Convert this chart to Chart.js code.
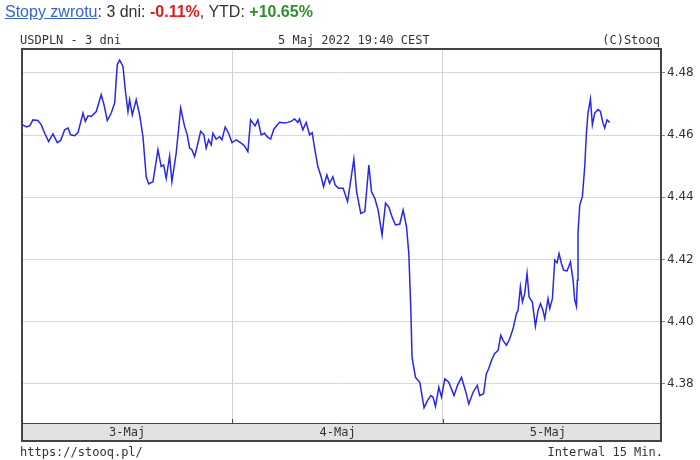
<!DOCTYPE html>
<html>
<head>
<meta charset="utf-8">
<script src="https://cdn.jsdelivr.net/npm/chart.js@4/dist/chart.umd.min.js"></script>
<style>
  body { margin: 0; background: #fff; }
  #wrap { position: relative; width: 700px; height: 460px; }
  canvas { position: absolute; left: 0; top: 0; }
  .txt { position: absolute; white-space: pre; color: #333; }
  .mono { font-family: "DejaVu Sans Mono", monospace; font-size: 12px; }
  #title { left: 5px; top: 3px; font-family: "Liberation Sans", Arial, sans-serif; font-size: 16px; }
  #title a { color: #3366cc; text-decoration: underline; }
  .red { color: #e01b1b; font-weight: bold; }
  .green { color: #2e8f2e; font-weight: bold; }
</style>
</head>
<body>
<div id="wrap">
  <canvas id="myChart" width="700" height="460"></canvas>
  <div class="txt" id="title"><a>Stopy zwrotu</a>: 3 dni: <span class="red">-0.11%</span>, YTD: <span class="green">+10.65%</span></div>
  <div class="txt mono" style="left:20px; top:33px;">USDPLN - 3 dni</div>
  <div class="txt mono" style="left:278px; top:33px;">5 Maj 2022 19:40 CEST</div>
  <div class="txt mono" style="right:40px; top:33px;">(C)Stooq</div>
  <div class="txt mono" style="left:20px; top:445px;">https://stooq.pl/</div>
  <div class="txt mono" style="right:37px; top:445px;">Interwal 15 Min.</div>
</div>
<script>
// godziny od poczatku 3 maja, kurs USDPLN
var day1Hours = [0.11,0.49,0.88,1.25,1.82,2.20,2.59,3.04,3.53,4.03,4.41,4.87,5.25,5.55,6.01,6.39,6.96,7.22,7.53,7.90,8.47,9.04,9.35,9.73,10.18,10.57,10.87,11.14,11.52,11.78,12.09,12.28,12.58,13.03,13.42,13.80,14.17,14.45,14.94,15.51,15.88,16.16,16.45,16.84,17.10,17.59,18.10,18.55,18.85,19.12,19.38,19.69,20.07,20.38,20.75,21.01,21.29,21.59,21.78,22.15,22.54,22.81,23.18,23.57,23.95];
var day1Values = [4.4633,4.4626,4.4630,4.4649,4.4647,4.4633,4.4606,4.4579,4.4604,4.4576,4.4583,4.4617,4.4623,4.4601,4.4598,4.4608,4.4671,4.4644,4.4662,4.4660,4.4676,4.4730,4.4698,4.4647,4.4671,4.4703,4.4827,4.4841,4.4821,4.4746,4.4676,4.4714,4.4665,4.4714,4.4665,4.4595,4.4466,4.4443,4.4450,4.4553,4.4499,4.4504,4.4461,4.4533,4.4450,4.4542,4.4687,4.4628,4.4601,4.4558,4.4553,4.4531,4.4574,4.4612,4.4601,4.4558,4.4585,4.4569,4.4606,4.4587,4.4595,4.4585,4.4626,4.4606,4.4576];

var day2Hours = [24.44,25.01,25.39,25.77,26.08,26.34,26.60,26.91,27.29,27.67,27.97,28.36,28.73,29.38,29.95,30.33,30.71,31.09,31.47,31.66,32.04,32.42,32.81,33.10,33.38,33.75,34.13,34.40,34.78,35.09,35.47,35.72,36.11,36.64,37.14,37.40,37.86,38.17,38.65,39.11,39.57,39.87,40.25,40.63,41.08,41.47,41.85,42.22,42.61,43.10,43.48,43.87,44.13,44.36,44.50,44.89,45.38,45.87,46.26,46.64,46.90,47.17,47.55,47.86];
var day2Values = [4.4585,4.4574,4.4565,4.4547,4.4649,4.4639,4.4630,4.4649,4.4601,4.4606,4.4595,4.4587,4.4619,4.4641,4.4639,4.4641,4.4644,4.4652,4.4641,4.4652,4.4617,4.4641,4.4601,4.4608,4.4558,4.4499,4.4466,4.4434,4.4472,4.4445,4.4466,4.4440,4.4429,4.4429,4.4386,4.4434,4.4523,4.4418,4.4348,4.4354,4.4504,4.4418,4.4397,4.4359,4.4278,4.4381,4.4368,4.4337,4.4311,4.4314,4.4359,4.4305,4.4219,4.4036,4.3886,4.3821,4.3805,4.3723,4.3746,4.3762,4.3757,4.3727,4.3789,4.3757];

var day3Hours = [48.23,48.69,49.29,49.68,50.14,50.59,50.97,51.46,51.94,52.22,52.66,52.97,53.25,53.56,53.90,54.31,54.62,54.88,55.27,55.64,56.02,56.41,56.59,56.86,57.09,57.35,57.62,57.85,58.23,58.57,58.87,59.15,59.44,59.64,60.01,60.21,60.51,60.78,61.04,61.27,61.54,61.80,62.18,62.57,62.87,63.06,63.25,63.36,63.43,63.63,63.93,64.20,64.39,64.57,64.85,65.07,65.34,65.71,65.99,66.28,66.48,66.74,67.05];
var day3Values = [4.3816,4.3805,4.3762,4.3795,4.3821,4.3778,4.3735,4.3773,4.3795,4.3762,4.3768,4.3832,4.3849,4.3875,4.3897,4.3907,4.3956,4.3940,4.3924,4.3945,4.3977,4.4026,4.4036,4.4112,4.4063,4.4090,4.4155,4.4079,4.4063,4.3985,4.4036,4.4058,4.4036,4.4010,4.4074,4.4042,4.4074,4.4198,4.4189,4.4219,4.4187,4.4165,4.4163,4.4192,4.4133,4.4069,4.4049,4.4133,4.4284,4.4375,4.4402,4.4499,4.4606,4.4671,4.4716,4.4633,4.4671,4.4682,4.4676,4.4639,4.4623,4.4649,4.4641];

var dayLabels = ["3-Maj", "4-Maj", "5-Maj"];
var dayMiddles = [12, 36, 60];
var dayBreaks = [24, 48];
var yTicks = [4.38, 4.40, 4.42, 4.44, 4.46, 4.48];

var hours = day1Hours.concat(day2Hours, day3Hours);
var values = day1Values.concat(day2Values, day3Values);
var points = hours.map(function (h, i) { return { x: h, y: values[i] }; });

// ramka wykresu i szary pasek z datami
var frame = {
  id: 'frame',
  beforeDraw: function (chart) {
    var c = chart.ctx, a = chart.chartArea;
    c.save();
    c.fillStyle = '#e2e2e2';
    c.fillRect(a.left, a.bottom, a.right - a.left, 18);
    c.restore();
  },
  afterDraw: function (chart) {
    var c = chart.ctx, a = chart.chartArea;
    var xs = chart.scales.x;
    c.save();
    c.strokeStyle = '#444';
    c.lineWidth = 2;
    c.strokeRect(a.left, a.top, a.right - a.left, a.bottom - a.top + 18);
    c.lineWidth = 1;
    c.beginPath();
    c.moveTo(a.left, a.bottom + 0.5);
    c.lineTo(a.right, a.bottom + 0.5);
    dayBreaks.forEach(function (d) {
      var px = Math.round(xs.getPixelForValue(d)) + 0.5;
      c.moveTo(px, a.bottom);
      c.lineTo(px, a.bottom - 4);
    });
    c.stroke();
    c.restore();
  }
};

var ctx = document.getElementById('myChart').getContext('2d');
var chart = new Chart(ctx, {
  type: 'line',
  data: {
    datasets: [{
      label: 'USDPLN',
      data: points,
      borderColor: 'rgb(40, 40, 230)',
      borderWidth: 1.5,
      pointRadius: 0,
      tension: 0,
      fill: false
    }]
  },
  options: {
    responsive: false,
    devicePixelRatio: 1,
    animation: false,
    layout: { padding: { left: 22, top: 49, right: 0, bottom: 19 } },
    plugins: { legend: { display: false }, tooltip: { enabled: false } },
    scales: {
      x: {
        type: 'linear',
        min: 0,
        max: 72.9,
        afterBuildTicks: function (s) {
          s.ticks = dayMiddles.concat(dayBreaks).sort(function (a, b) { return a - b; })
            .map(function (v) { return { value: v }; });
        },
        afterFit: function (s) { s.height = 18; },
        grid: {
          color: function (c) { return dayBreaks.indexOf(c.tick && c.tick.value) >= 0 ? '#d4d4d4' : 'rgba(0,0,0,0)'; },
          drawTicks: false
        },
        border: { display: false },
        ticks: {
          autoSkip: false,
          maxRotation: 0,
          padding: 3,
          color: '#333',
          font: { family: 'DejaVu Sans Mono', size: 12 },
          callback: function (v) {
            var i = dayMiddles.indexOf(v);
            return i >= 0 ? dayLabels[i] : '';
          }
        }
      },
      y: {
        position: 'right',
        min: 4.3674,
        max: 4.4877,
        afterBuildTicks: function (s) {
          s.ticks = yTicks.map(function (v) { return { value: v }; });
        },
        afterFit: function (s) { s.width = 39; },
        grid: { color: '#d8d8d8', tickLength: 4, tickColor: '#888' },
        border: { display: false },
        ticks: {
          padding: 2,
          color: '#333',
          font: { family: 'DejaVu Sans', size: 12 },
          callback: function (v) { return v.toFixed(2); }
        }
      }
    }
  },
  plugins: [frame]
});
</script>
</body>
</html>
